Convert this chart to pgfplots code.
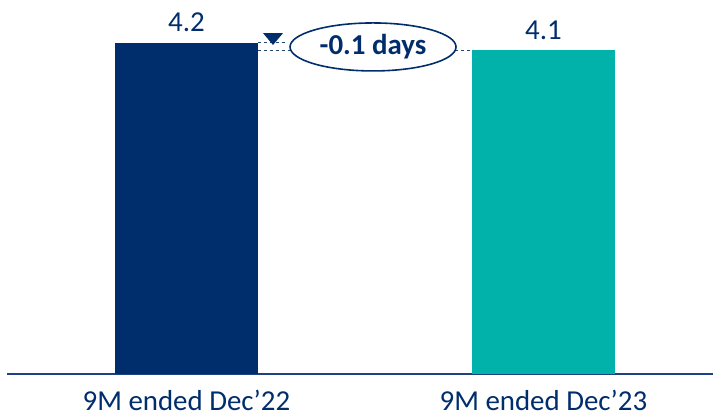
\documentclass[border=0pt]{standalone}
\usepackage{pgfplots}
\pgfplotsset{compat=1.18}
\usepackage{fontspec}
\setmainfont{Carlito}
\definecolor{navy}{RGB}{0,46,108}
\definecolor{teal2}{RGB}{0,178,169}
\definecolor{axisblue}{RGB}{31,64,130}
\begin{document}
\begin{tikzpicture}
\path[use as bounding box] (-7bp,-43bp) rectangle (706bp,374bp);
\begin{axis}[
  scale only axis,
  width=706bp, height=374bp,
  xmin=-0.5025, xmax=1.475,
  ymin=0, ymax=4.74,
  axis x line=bottom,
  axis y line=none,
  x axis line style={-, color=axisblue, line width=1.6pt},
  xtick={0,1},
  xticklabels={9M ended Dec’22, 9M ended Dec’23},
  major tick length=0pt,
  xticklabel style={anchor=base, inner sep=0pt, yshift=-36bp, font=\fontsize{29}{33}\selectfont, text=navy},
  ybar, bar width=0.4,
  nodes near coords,
  every node near coord/.append style={anchor=base, yshift=11bp, font=\fontsize{29}{33}\selectfont, text=navy},
  nodes near coords={\pgfmathprintnumber[fixed, precision=1, fixed zerofill, assume math mode=true]{\pgfplotspointmeta}},
  clip=false,
]
\addplot[fill=navy, draw=none, bar shift=0pt] coordinates {(0,4.2)};
\addplot[fill=teal2, draw=none, bar shift=0pt] coordinates {(1,4.1)};
\draw[dashed, navy!70!gray, line width=0.8pt] (axis cs:0.2,4.2) -- (axis cs:0.276,4.2);
\draw[dashed, navy!70!gray, line width=0.8pt] (axis cs:0.2,4.1) -- (axis cs:0.8,4.1);
\fill[navy] (axis cs:0.2146,4.32) -- (axis cs:0.2706,4.32) -- (axis cs:0.2426,4.17) -- cycle;
\draw[navy, line width=1.6pt, fill=white] (axis cs:0.5227,4.145) ellipse [x radius=83bp, y radius=24bp];
\node[text=navy, font=\fontsize{29}{33}\selectfont\bfseries] at (axis cs:0.5227,4.145) {-0.1 days};
\end{axis}
\end{tikzpicture}
\end{document}
